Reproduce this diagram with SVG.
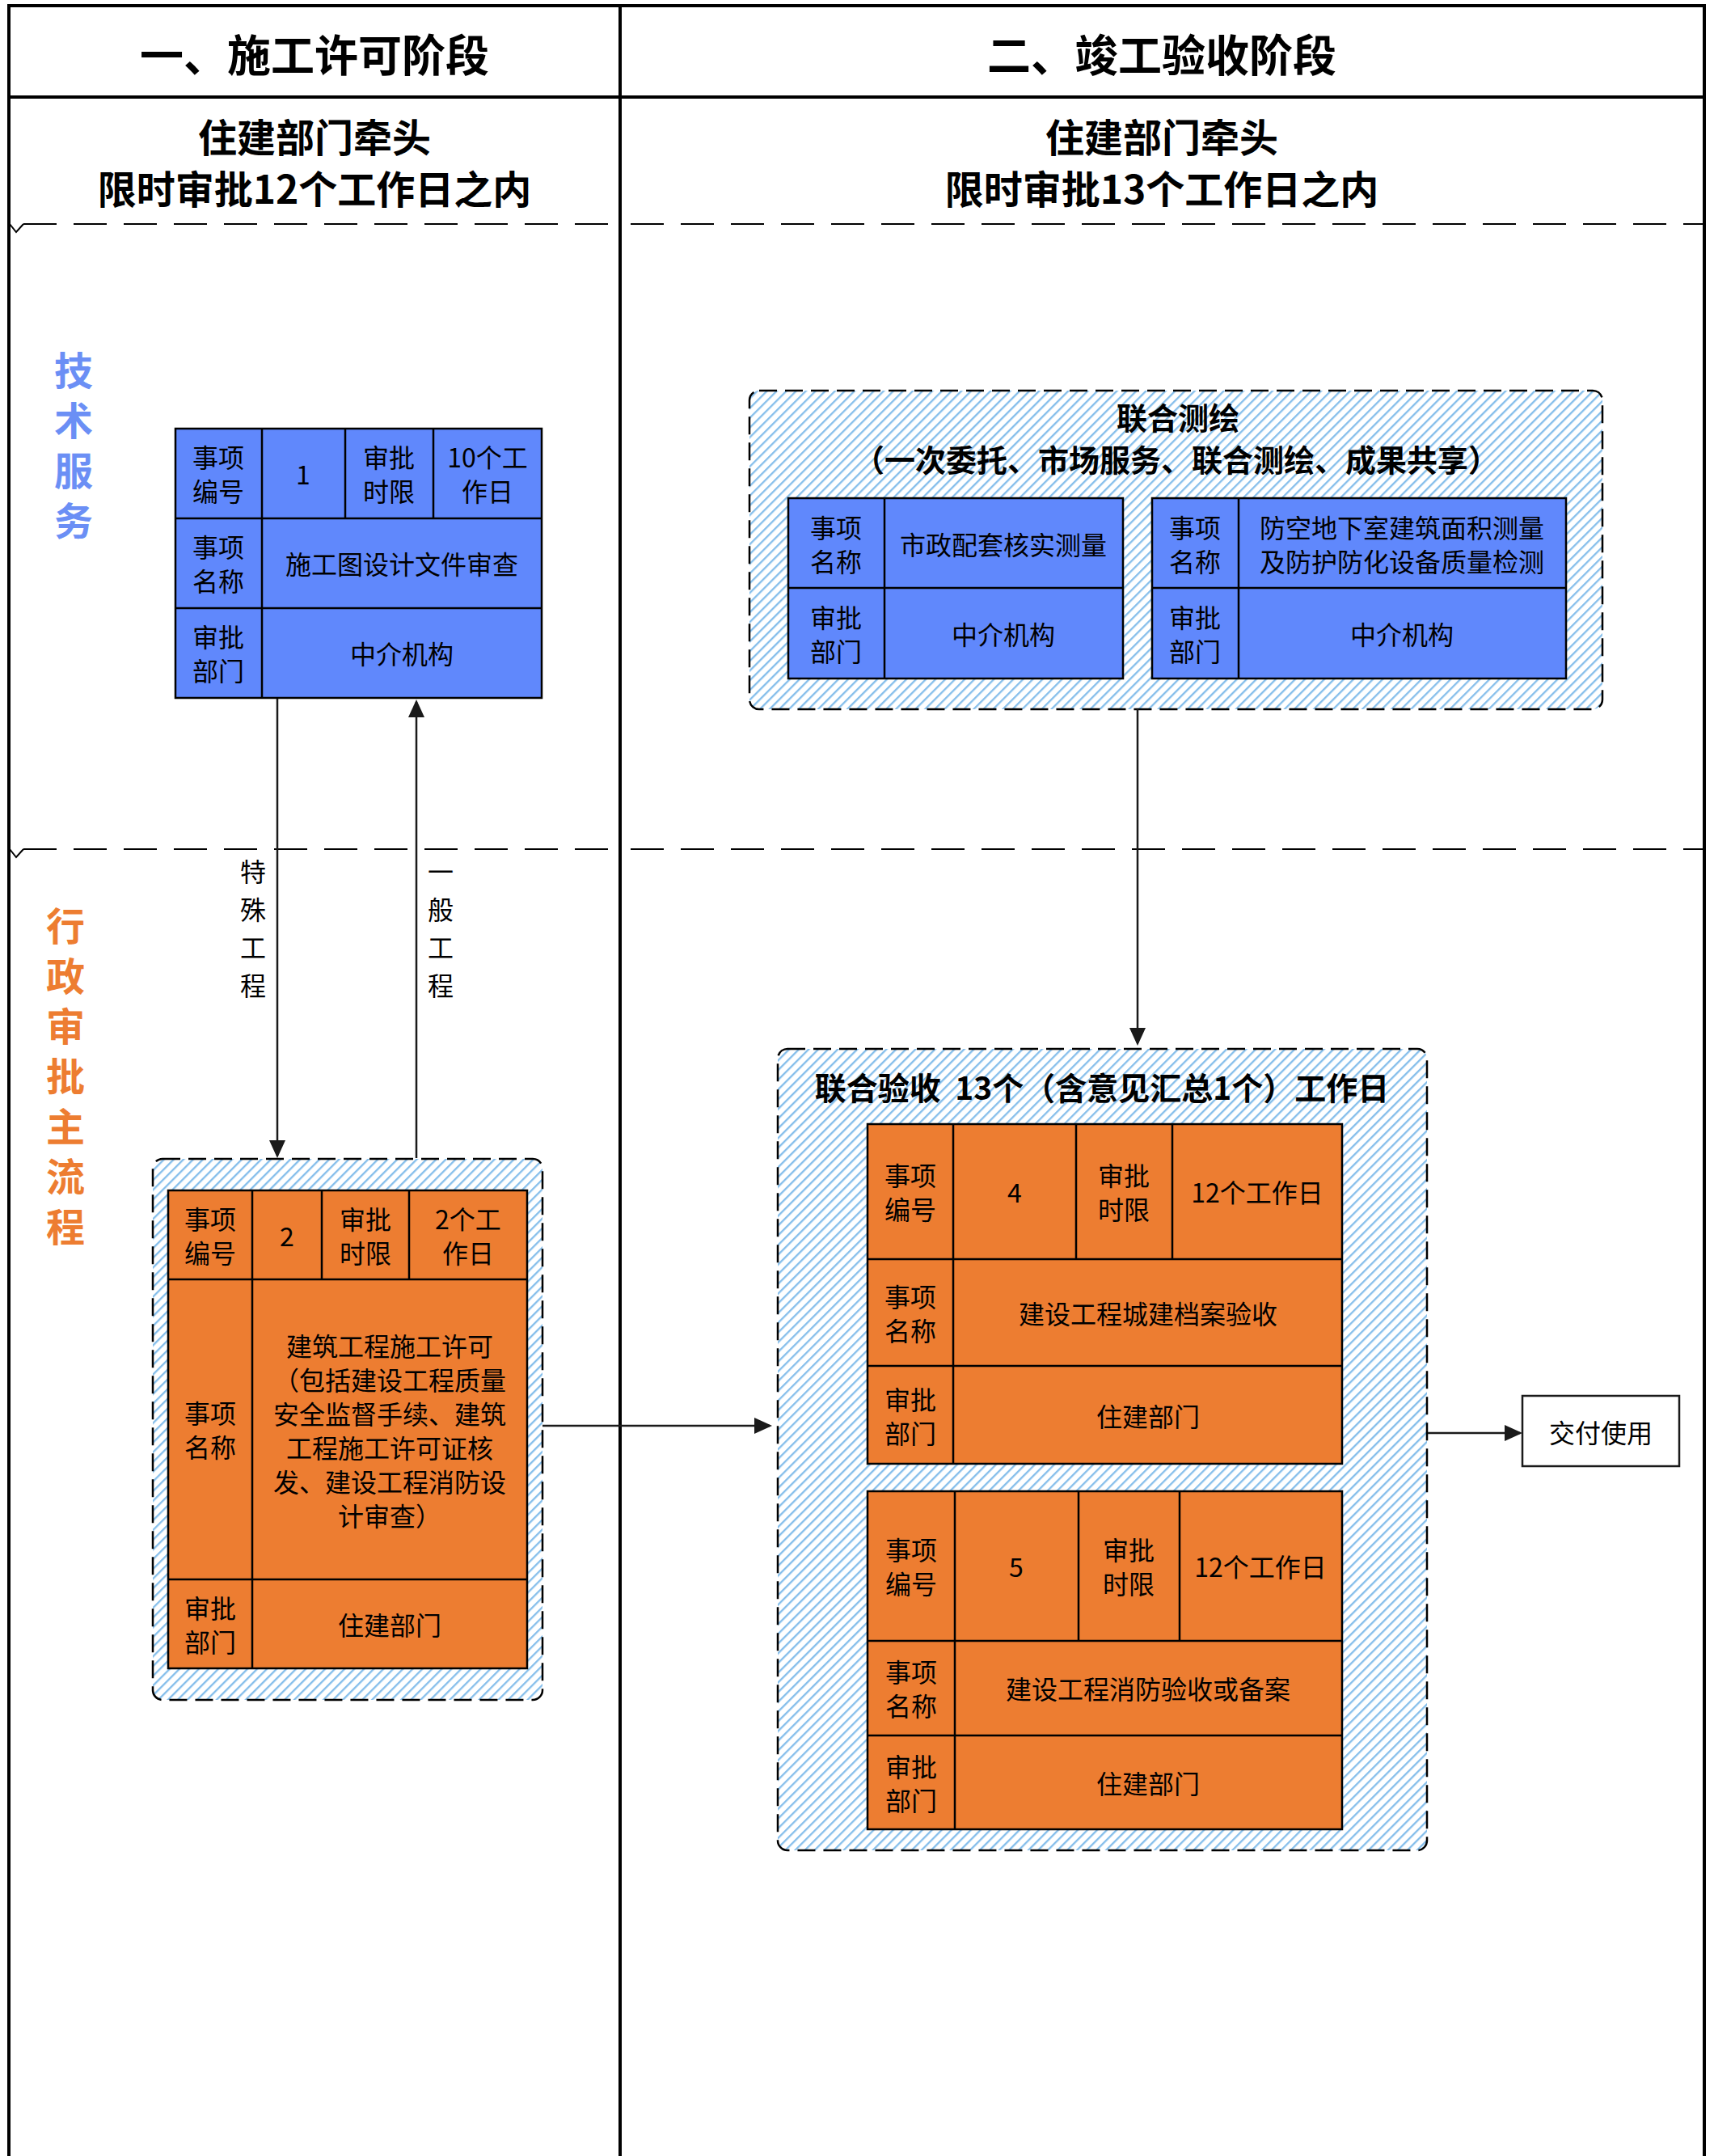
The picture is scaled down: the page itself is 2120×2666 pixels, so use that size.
<svg xmlns="http://www.w3.org/2000/svg" width="2120" height="2666" viewBox="0 0 2120 2666">
<defs>
  <pattern id="hatch" width="8.5" height="8.5" patternUnits="userSpaceOnUse" patternTransform="rotate(45)">
    <rect width="8.5" height="8.5" fill="#ffffff"/>
    <line x1="1.2" y1="0" x2="1.2" y2="8.5" stroke="#7fbbea" stroke-width="2.2"/>
  </pattern>
  <marker id="arrow" markerUnits="userSpaceOnUse" markerWidth="22" markerHeight="20" viewBox="0 0 22 20" refX="19" refY="10" orient="auto">
    <path d="M0,0 L22,10 L0,20 z" fill="#1a1a1a"/>
  </marker>
  <style>
    .frame{stroke:#000;stroke-width:4;fill:none}
    .lane{stroke:#000;stroke-width:2.2;stroke-dasharray:41 21;fill:none}
    .notch{stroke:#000;stroke-width:2;fill:none}
    .h1{font-family:"Noto Sans CJK SC","Noto Sans",sans-serif;font-weight:700;font-size:54px;text-anchor:middle;dominant-baseline:central;fill:#000}
    .h2{font-family:"Noto Sans CJK SC","Noto Sans",sans-serif;font-weight:700;font-size:48px;text-anchor:middle;dominant-baseline:central;fill:#000}
    .vert{writing-mode:vertical-rl;text-orientation:upright;text-anchor:middle}
    .lbl-blue{font-family:"Noto Sans CJK SC",sans-serif;font-weight:700;font-size:48px;letter-spacing:14px;fill:#6b8ff5}
    .lbl-orange{font-family:"Noto Sans CJK SC",sans-serif;font-weight:700;font-size:48px;letter-spacing:14px;fill:#ed7d31}
    .vlabel{font-family:"Noto Sans CJK SC","Noto Sans",sans-serif;font-size:32px;letter-spacing:15px;fill:#000}
    .cell{font-family:"Noto Sans CJK SC","Noto Sans",sans-serif;font-size:32px;text-anchor:middle;dominant-baseline:central;fill:#000}
    .gtitle{font-family:"Noto Sans CJK SC","Noto Sans",sans-serif;font-weight:700;font-size:38px;text-anchor:middle;dominant-baseline:central;fill:#000}
    .blue{fill:#6088fc;stroke:#000;stroke-width:2.5}
    .orange{fill:#ed7d31;stroke:#000;stroke-width:2.5}
    .grid{stroke:#000;stroke-width:2.5;fill:none}
    .container{fill:url(#hatch);stroke:#000;stroke-width:2.5;stroke-dasharray:22 10}
    .conn{stroke:#1a1a1a;stroke-width:2.5;fill:none;marker-end:url(#arrow)}
    .plain{stroke:#1a1a1a;stroke-width:2.5;fill:#fff}
  </style>
</defs>
<rect width="2120" height="2666" fill="#fff"/>

<!-- Frame / swimlanes -->
<g id="frame">
  <line class="frame" x1="9" y1="7" x2="2110" y2="7"/>
  <line class="frame" x1="11" y1="5" x2="11" y2="2666"/>
  <line class="frame" x1="2108" y1="5" x2="2108" y2="2666"/>
  <line class="frame" x1="767" y1="5" x2="767" y2="2666"/>
  <line class="frame" x1="11" y1="120" x2="2108" y2="120"/>
  <polyline class="notch" points="12,277 20,287 29,277"/>
  <line class="lane" x1="29" y1="277" x2="765" y2="277"/>
  <line class="lane" x1="780" y1="277" x2="2106" y2="277"/>
  <polyline class="notch" points="12,1050 20,1060 29,1050"/>
  <line class="lane" x1="29" y1="1050" x2="765" y2="1050"/>
  <line class="lane" x1="780" y1="1050" x2="2106" y2="1050"/>
</g>

<g id="header-1">
  <text class="h1" x="389" y="65">一、施工许可阶段</text>
  <text class="h2" x="389" y="167">住建部门牵头</text>
  <text class="h2" x="389" y="231">限时审批12个工作日之内</text>
</g>
<g id="header-2">
  <text class="h1" x="1437" y="65">二、竣工验收阶段</text>
  <text class="h2" x="1437" y="167">住建部门牵头</text>
  <text class="h2" x="1437" y="231">限时审批13个工作日之内</text>
</g>

<g id="lane-tech">
  <text class="lbl-blue vert" x="91" y="558">技术服务</text>
</g>
<g id="lane-admin">
  <text class="lbl-orange vert" x="81" y="1338">行政审批主流程</text>
</g>

<!-- Item 1 -->
<g id="item-1">
  <rect class="blue" x="217" y="530" width="453" height="333"/>
  <path class="grid" d="M217,641 H670 M217,752 H670 M324,530 V863 M427,530 V641 M536,530 V641"/>
  <text class="cell" x="270" y="585"><tspan x="270" dy="-21">事项</tspan><tspan x="270" dy="42">编号</tspan></text>
  <text class="cell" x="375" y="585">1</text>
  <text class="cell" x="481" y="585"><tspan x="481" dy="-21">审批</tspan><tspan x="481" dy="42">时限</tspan></text>
  <text class="cell" x="603" y="585"><tspan x="603" dy="-21">10个工</tspan><tspan x="603" dy="42">作日</tspan></text>
  <text class="cell" x="270" y="696"><tspan x="270" dy="-21">事项</tspan><tspan x="270" dy="42">名称</tspan></text>
  <text class="cell" x="497" y="696">施工图设计文件审查</text>
  <text class="cell" x="270" y="807"><tspan x="270" dy="-21">审批</tspan><tspan x="270" dy="42">部门</tspan></text>
  <text class="cell" x="497" y="807">中介机构</text>
</g>

<!-- Joint survey -->
<g id="joint-survey">
  <rect class="container" x="927" y="483" width="1055" height="394" rx="12"/>
  <text class="gtitle" x="1457" y="514">联合测绘</text>
  <text class="gtitle" x="1455" y="566">（一次委托、市场服务、联合测绘、成果共享）</text>
  <g id="survey-a">
    <rect class="blue" x="975" y="616" width="414" height="223"/>
    <path class="grid" d="M975,727 H1389 M1094,616 V839"/>
    <text class="cell" x="1034" y="672"><tspan x="1034" dy="-21">事项</tspan><tspan x="1034" dy="42">名称</tspan></text>
    <text class="cell" x="1241" y="672">市政配套核实测量</text>
    <text class="cell" x="1034" y="783"><tspan x="1034" dy="-21">审批</tspan><tspan x="1034" dy="42">部门</tspan></text>
    <text class="cell" x="1241" y="783">中介机构</text>
  </g>
  <g id="survey-b">
    <rect class="blue" x="1425" y="616" width="512" height="223"/>
    <path class="grid" d="M1425,727 H1937 M1532,616 V839"/>
    <text class="cell" x="1478" y="672"><tspan x="1478" dy="-21">事项</tspan><tspan x="1478" dy="42">名称</tspan></text>
    <text class="cell" x="1734" y="672"><tspan x="1734" dy="-21">防空地下室建筑面积测量</tspan><tspan x="1734" dy="42">及防护防化设备质量检测</tspan></text>
    <text class="cell" x="1478" y="783"><tspan x="1478" dy="-21">审批</tspan><tspan x="1478" dy="42">部门</tspan></text>
    <text class="cell" x="1734" y="783">中介机构</text>
  </g>
</g>

<!-- Item 2 -->
<g id="item-2">
  <rect class="container" x="189" y="1433" width="482" height="669" rx="12"/>
  <rect class="orange" x="208" y="1472" width="444" height="591"/>
  <path class="grid" d="M208,1582 H652 M208,1953 H652 M312,1472 V2063 M398,1472 V1582 M506,1472 V1582"/>
  <text class="cell" x="260" y="1527"><tspan x="260" dy="-21">事项</tspan><tspan x="260" dy="42">编号</tspan></text>
  <text class="cell" x="355" y="1527">2</text>
  <text class="cell" x="452" y="1527"><tspan x="452" dy="-21">审批</tspan><tspan x="452" dy="42">时限</tspan></text>
  <text class="cell" x="579" y="1527"><tspan x="579" dy="-21">2个工</tspan><tspan x="579" dy="42">作日</tspan></text>
  <text class="cell" x="260" y="1767"><tspan x="260" dy="-21">事项</tspan><tspan x="260" dy="42">名称</tspan></text>
  <text class="cell" x="482" y="1663">建筑工程施工许可</text>
  <text class="cell" x="482" y="1705">（包括建设工程质量</text>
  <text class="cell" x="482" y="1747">安全监督手续、建筑</text>
  <text class="cell" x="482" y="1789">工程施工许可证核</text>
  <text class="cell" x="482" y="1831">发、建设工程消防设</text>
  <text class="cell" x="482" y="1873">计审查）</text>
  <text class="cell" x="260" y="2008"><tspan x="260" dy="-21">审批</tspan><tspan x="260" dy="42">部门</tspan></text>
  <text class="cell" x="482" y="2008">住建部门</text>
</g>

<!-- Joint acceptance -->
<g id="joint-acceptance">
  <rect class="container" x="962" y="1297" width="803" height="991" rx="12"/>
  <text class="gtitle" x="1363" y="1343" style="font-size:39px" xml:space="preserve">联合验收  13个（含意见汇总1个）工作日</text>
  <g id="item-4">
    <rect class="orange" x="1073" y="1390" width="587" height="420"/>
    <path class="grid" d="M1073,1557 H1660 M1073,1689 H1660 M1179,1390 V1810 M1331,1390 V1557 M1450,1390 V1557"/>
    <text class="cell" x="1126" y="1473"><tspan x="1126" dy="-21">事项</tspan><tspan x="1126" dy="42">编号</tspan></text>
    <text class="cell" x="1255" y="1473">4</text>
    <text class="cell" x="1390" y="1473"><tspan x="1390" dy="-21">审批</tspan><tspan x="1390" dy="42">时限</tspan></text>
    <text class="cell" x="1555" y="1473">12个工作日</text>
    <text class="cell" x="1126" y="1623"><tspan x="1126" dy="-21">事项</tspan><tspan x="1126" dy="42">名称</tspan></text>
    <text class="cell" x="1420" y="1623">建设工程城建档案验收</text>
    <text class="cell" x="1126" y="1750"><tspan x="1126" dy="-21">审批</tspan><tspan x="1126" dy="42">部门</tspan></text>
    <text class="cell" x="1420" y="1750">住建部门</text>
  </g>
  <g id="item-5">
    <rect class="orange" x="1073" y="1844" width="587" height="418"/>
    <path class="grid" d="M1073,2029 H1660 M1073,2146 H1660 M1181,1844 V2262 M1334,1844 V2029 M1459,1844 V2029"/>
    <text class="cell" x="1127" y="1936"><tspan x="1127" dy="-21">事项</tspan><tspan x="1127" dy="42">编号</tspan></text>
    <text class="cell" x="1257" y="1936">5</text>
    <text class="cell" x="1396" y="1936"><tspan x="1396" dy="-21">审批</tspan><tspan x="1396" dy="42">时限</tspan></text>
    <text class="cell" x="1559" y="1936">12个工作日</text>
    <text class="cell" x="1127" y="2087"><tspan x="1127" dy="-21">事项</tspan><tspan x="1127" dy="42">名称</tspan></text>
    <text class="cell" x="1420" y="2087">建设工程消防验收或备案</text>
    <text class="cell" x="1127" y="2204"><tspan x="1127" dy="-21">审批</tspan><tspan x="1127" dy="42">部门</tspan></text>
    <text class="cell" x="1420" y="2204">住建部门</text>
  </g>
</g>

<g id="delivery">
  <rect class="plain" x="1883" y="1726" width="194" height="87"/>
  <text class="cell" x="1980" y="1770">交付使用</text>
</g>

<!-- Connectors -->
<g id="connectors">
  <line class="conn" x1="343" y1="864" x2="343" y2="1429"/>
  <line class="conn" x1="515" y1="1432" x2="515" y2="868"/>
  <line class="conn" x1="1407" y1="877" x2="1407" y2="1290"/>
  <line class="conn" x1="671" y1="1763" x2="952" y2="1763"/>
  <line class="conn" x1="1766" y1="1772" x2="1880" y2="1772"/>
  <text class="vlabel vert" x="313" y="1156">特殊工程</text>
  <text class="vlabel vert" x="545" y="1156">一般工程</text>
</g>
</svg>
